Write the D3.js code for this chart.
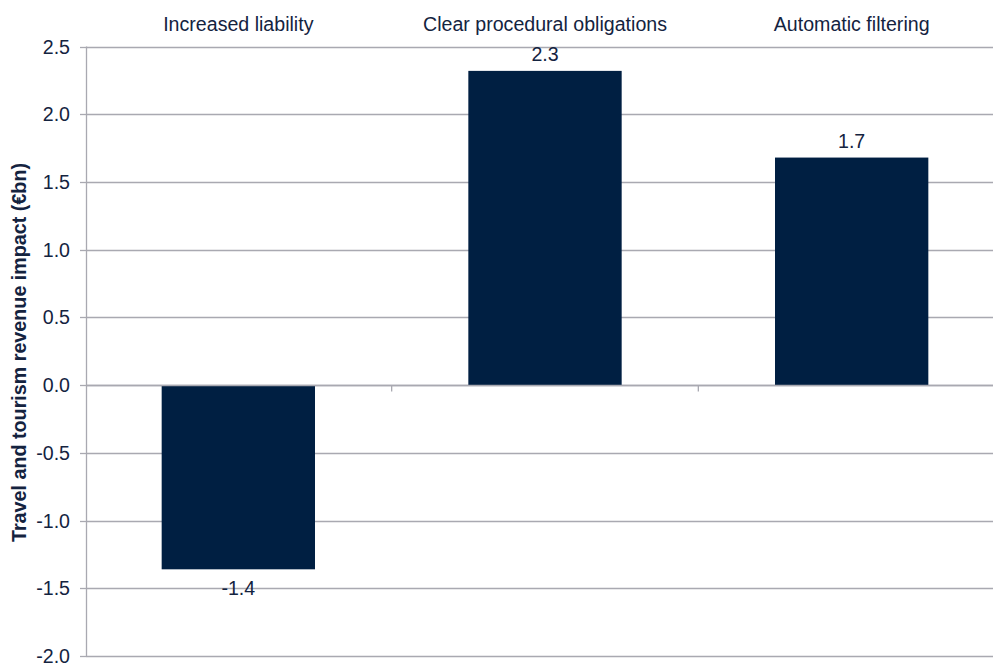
<!DOCTYPE html>
<html>
<head>
<meta charset="utf-8">
<script src="https://cdn.jsdelivr.net/npm/d3@7"></script>
<style>
  html, body { margin: 0; padding: 0; background: #fff; }
  svg { display: block; }
  text { font-family: "Liberation Sans", Arial, sans-serif; fill: #14233f; }
</style>
</head>
<body>
<svg id="chart" width="993" height="664"></svg>
<script>
// Revenue impact by policy option (€bn)
const categories = ["Increased liability", "Clear procedural obligations", "Automatic filtering"];
const values = [-1.36, 2.32, 1.68];
const yTicks = [-2.0, -1.5, -1.0, -0.5, 0.0, 0.5, 1.0, 1.5, 2.0, 2.5];
const yTitle = "Travel and tourism revenue impact (€bn)";

(function () {
  const W = 993;
  const mLeft = 85, mRight = 1005, mTop = 46.5, mBottom = 656;
  const gridColor = "#a9a9b1";
  const barColor = "#001f42";
  const fontSize = "19.6px";

  const svg = d3.select("#chart");

  const x = d3.scaleBand().domain(categories).range([mLeft, mRight]).paddingInner(0.5).paddingOuter(0.25);
  const y = d3.scaleLinear().domain([-2.0, 2.5]).range([mBottom, mTop]);
  const py = v => Math.round(y(v)) + 0.5;

  // horizontal gridlines
  svg.append("g")
    .selectAll("line")
    .data(yTicks)
    .join("line")
    .attr("x1", mLeft + 1).attr("x2", W)
    .attr("y1", d => py(d)).attr("y2", d => py(d))
    .attr("stroke", gridColor).attr("stroke-width", 1.3);

  // y axis
  const yAxis = d3.axisLeft(y).tickValues(yTicks).tickFormat(d => d.toFixed(1)).tickSize(6).tickPadding(10);
  const ga = svg.append("g").attr("transform", `translate(${mLeft + 1},0)`).call(yAxis);
  ga.select(".domain").attr("stroke", gridColor).attr("stroke-width", 1.3)
    .attr("d", `M0.5,${mTop}V${mBottom}`);
  ga.selectAll(".tick line").attr("stroke", gridColor).attr("stroke-width", 1.3);
  ga.selectAll(".tick text")
    .style("font-family", "'Liberation Sans', Arial, sans-serif")
    .style("font-size", fontSize).style("fill", "#14233f");
  ga.selectAll(".tick").attr("transform", d => `translate(0,${py(d)})`);

  // bars
  svg.append("g")
    .selectAll("rect")
    .data(values)
    .join("rect")
    .attr("x", (d, i) => x(categories[i]))
    .attr("width", x.bandwidth())
    .attr("y", d => y(Math.max(0, d)))
    .attr("height", d => Math.abs(y(d) - y(0)))
    .attr("fill", barColor);

  // category separators below the zero line
  const sep = c => x(c) - (x.step() - x.bandwidth()) / 2;
  svg.append("g")
    .selectAll("line")
    .data(categories.slice(1))
    .join("line")
    .attr("x1", sep).attr("x2", sep)
    .attr("y1", py(0)).attr("y2", py(0) + 6)
    .attr("stroke", gridColor).attr("stroke-width", 1.3);

  // zero line drawn over the bars
  svg.append("line")
    .attr("x1", mLeft + 1).attr("x2", W)
    .attr("y1", py(0)).attr("y2", py(0))
    .attr("stroke", gridColor).attr("stroke-width", 1.3);

  // value labels
  svg.append("g")
    .selectAll("text")
    .data(values)
    .join("text")
    .attr("x", (d, i) => x(categories[i]) + x.bandwidth() / 2)
    .attr("y", d => d >= 0 ? y(d) - 10 : y(d) + 26)
    .attr("text-anchor", "middle")
    .style("font-size", fontSize)
    .text(d => d.toFixed(1));

  // category labels across the top
  svg.append("g")
    .selectAll("text")
    .data(categories)
    .join("text")
    .attr("x", c => x(c) + x.bandwidth() / 2)
    .attr("y", 31)
    .attr("text-anchor", "middle")
    .style("font-size", fontSize)
    .text(c => c);

  // y axis title
  svg.append("text")
    .attr("transform", "translate(26,352.5) rotate(-90)")
    .attr("text-anchor", "middle")
    .attr("textLength", 379)
    .attr("lengthAdjust", "spacingAndGlyphs")
    .style("font-size", "19.5px")
    .style("font-weight", "bold")
    .text(yTitle);
})();
</script>
</body>
</html>
